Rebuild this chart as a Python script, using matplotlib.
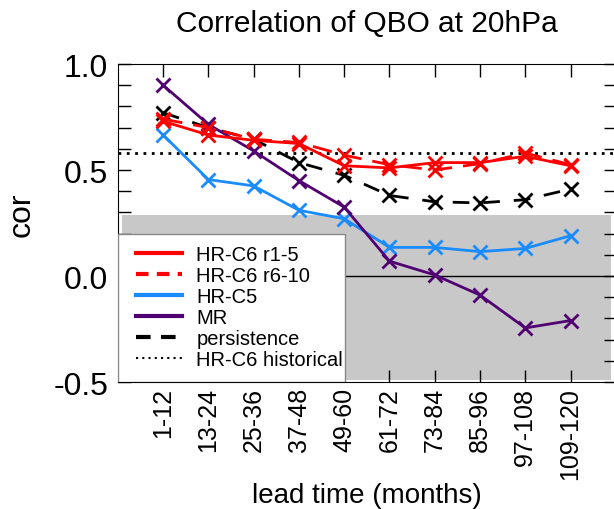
import matplotlib
matplotlib.use("Agg")
import matplotlib.pyplot as plt
from matplotlib.patches import Rectangle
from matplotlib.ticker import MultipleLocator
from matplotlib.lines import Line2D

plt.rcParams['font.family'] = ['Liberation Sans', 'DejaVu Sans']

# datos
leads = ["1-12", "13-24", "25-36", "37-48", "49-60", "61-72",
         "73-84", "85-96", "97-108", "109-120"]
hr_c6_r1_5 = [0.73, 0.665, 0.64, 0.625, 0.52, 0.51, 0.535, 0.535, 0.565, 0.52]
hr_c6_r6_10 = [0.74, 0.70, 0.645, 0.63, 0.57, 0.525, 0.50, 0.53, 0.58, 0.525]
hr_c5 = [0.665, 0.455, 0.425, 0.31, 0.27, 0.135, 0.135, 0.115, 0.13, 0.19]
mr = [0.90, 0.715, 0.59, 0.45, 0.325, 0.07, 0.005, -0.09, -0.245, -0.21]
persistence = [0.77, 0.70, 0.645, 0.535, 0.475, 0.38, 0.35, 0.345, 0.36, 0.41]
hr_c6_hist = 0.58
sig_band = (-0.49, 0.29)

x = list(range(1, len(leads) + 1))

fig = plt.figure(figsize=(6.14, 5.10), dpi=100)
ax = fig.add_axes([0.192, 0.249, 0.811, 0.6235])

# zona no significativa
ax.add_patch(Rectangle((0.1, sig_band[0]), 10.8, sig_band[1] - sig_band[0],
                       facecolor='#c8c8c8', edgecolor='none', zorder=0))
ax.axhline(0, color='black', lw=1, zorder=1)
ax.axhline(hr_c6_hist, color='black', lw=2, ls=(0, (1, 2)), zorder=2)

kw = dict(marker='x', markersize=10, mew=2, lw=2, zorder=3)
ax.plot(x, persistence, color='black', ls=(0, (6, 5)), **kw)
ax.plot(x, hr_c5, color='#1a8cff', **kw)
ax.plot(x, mr, color='#500070', **kw)
ax.plot(x, hr_c6_r6_10, color='red', ls=(0, (7, 4)), **kw)
ax.plot(x, hr_c6_r1_5, color='red', **kw)

ax.set_xlim(0, 11)
ax.set_ylim(-0.5, 1.0)
ax.set_xticks(x)
ax.set_xticklabels(leads, rotation=90, fontsize=18)
ax.yaxis.set_minor_locator(MultipleLocator(0.1))
ax.set_yticks([-0.5, 0.0, 0.5, 1.0])
ax.set_yticklabels(['-0.5', '0.0', '0.5', '1.0'], fontsize=23)
ax.tick_params(direction='in', top=True, right=True, length=9, width=1)
ax.tick_params(which='minor', direction='in', right=True, length=9, width=1)
ax.tick_params(axis='y', pad=7)

ax.set_title("Correlation of QBO at 20hPa", fontsize=21.5, pad=24)
ax.set_xlabel("lead time (months)", fontsize=20, labelpad=2)
ax.set_ylabel("cor", fontsize=23)
ax.yaxis.set_label_coords(-0.163, 0.53)

# caja blanca de la leyenda
ax.add_patch(Rectangle((0, 0), 0.456, 0.465, transform=ax.transAxes,
                       facecolor='white', edgecolor='#888888', lw=1,
                       zorder=4))

# leyenda hecha a mano para respetar el orden
handles = [
    Line2D([], [], color='red', lw=3),
    Line2D([], [], color='red', lw=3, ls=(0, (3, 2))),
    Line2D([], [], color='#1a8cff', lw=3),
    Line2D([], [], color='#500070', lw=3),
    Line2D([], [], color='black', lw=3, ls=(0, (3.5, 2.5))),
    Line2D([], [], color='black', lw=1.5, ls=(0, (1, 2))),
]
labels = ["HR-C6 r1-5", "HR-C6 r6-10", "HR-C5", "MR", "persistence",
          "HR-C6 historical"]
leg = ax.legend(handles, labels, loc='upper left',
                bbox_to_anchor=(0.036, 0.43), fontsize=14.5, frameon=False,
                handlelength=2.3, handletextpad=0.7,
                labelspacing=0.1, borderpad=0, borderaxespad=0)
leg.set_zorder(5)

plt.savefig("out.png", dpi=100)
